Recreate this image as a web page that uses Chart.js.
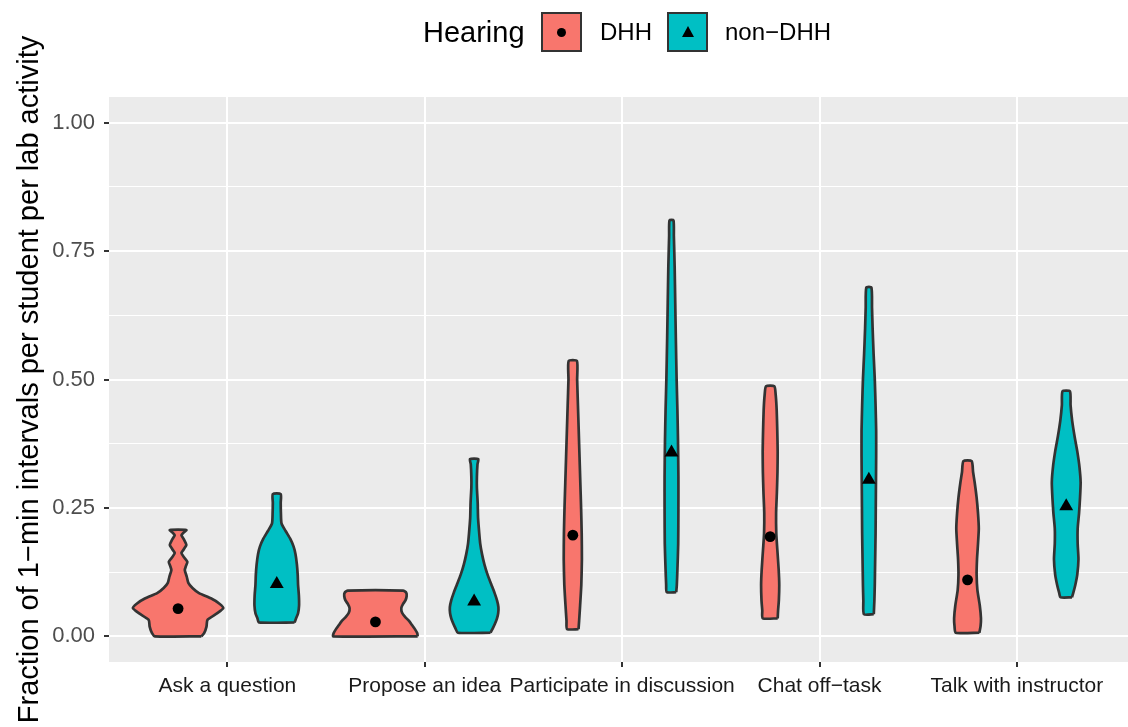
<!DOCTYPE html>
<html>
<head>
<meta charset="utf-8">
<script src="https://cdn.jsdelivr.net/npm/chart.js@4.4.1/dist/chart.umd.min.js"></script>
<style>
  html, body { margin: 0; padding: 0; background: #fff; overflow: hidden; }
  #wrap { position: relative; width: 1128px; height: 727px; font-family: "Liberation Sans", Arial, Helvetica, sans-serif; }
  #chart { position: absolute; left: 0; top: 0; }
  #legend > * { position: absolute; }
  .ltext { top: 32px; transform: translateY(-50%); line-height: 1; color: #000; white-space: nowrap; }
  .key { top: 12px; width: 41px; height: 40px; box-sizing: border-box; border: 2.5px solid #333; }
  .key .dot { position: absolute; left: 50%; top: 50%; width: 9px; height: 9px; margin: -4.5px 0 0 -4.5px; border-radius: 50%; background: #000; }
  .key .tri { position: absolute; left: 50%; top: 50%; width: 0; height: 0; margin: -6px 0 0 -6px;
    border-left: 6px solid transparent; border-right: 6px solid transparent; border-bottom: 11px solid #000; }
</style>
</head>
<body>
<div id="wrap">
  <canvas id="chart" width="1128" height="727"></canvas>
  <div id="legend"></div>
</div>
<script>
// categories and groups
const categories = ['Ask a question', 'Propose an idea', 'Participate in discussion', 'Chat off\u2212task', 'Talk with instructor'];
const groups = ['DHH', 'non\u2212DHH'];
const groupColors = ['#F8766D', '#00BFC4'];
const legendTitle = 'Hearing';
const yTitle = 'Fraction of 1\u2212min intervals per student per lab activity';

// group means (drawn as dot / triangle)
const meansDHH = [0.054, 0.028, 0.197, 0.194, 0.110];
const meansNonDHH = [0.102, 0.068, 0.358, 0.305, 0.253];

// violin outlines: [value, half-width in category units], bottom to top
const askDHH = [[0, 0.118], [0.006, 0.132], [0.019, 0.144], [0.032, 0.149], [0.045, 0.199], [0.055, 0.229], [0.064, 0.208],
  [0.074, 0.166], [0.084, 0.106], [0.094, 0.073], [0.104, 0.052], [0.116, 0.044], [0.129, 0.034], [0.137, 0.040],
  [0.145, 0.047], [0.154, 0.030], [0.162, 0.017], [0.170, 0.030], [0.178, 0.042], [0.187, 0.032], [0.197, 0.017],
  [0.202, 0.028], [0.207, 0.042]];
const askNonDHH = [[0.027, 0.090], [0.035, 0.098], [0.045, 0.108], [0.06, 0.113], [0.08, 0.112], [0.10, 0.108],
  [0.12, 0.106], [0.14, 0.102], [0.16, 0.095], [0.175, 0.085], [0.19, 0.068], [0.205, 0.045], [0.22, 0.024],
  [0.24, 0.021], [0.26, 0.020], [0.277, 0.020]];
const proposeDHH = [[0, 0.214], [0.006, 0.212], [0.014, 0.200], [0.022, 0.185], [0.030, 0.170], [0.038, 0.150],
  [0.046, 0.135], [0.055, 0.131], [0.063, 0.140], [0.070, 0.152], [0.078, 0.158], [0.085, 0.156], [0.089, 0.14]];
const proposeNonDHH = [[0.007, 0.083], [0.015, 0.094], [0.025, 0.106], [0.035, 0.116], [0.045, 0.122], [0.057, 0.123],
  [0.07, 0.116], [0.085, 0.103], [0.10, 0.088], [0.12, 0.068], [0.14, 0.052], [0.16, 0.040], [0.18, 0.031],
  [0.20, 0.026], [0.23, 0.020], [0.26, 0.018], [0.29, 0.014], [0.31, 0.014], [0.335, 0.017], [0.345, 0.021]];
const participateDHH = [[0.014, 0.029], [0.03, 0.032], [0.06, 0.037], [0.10, 0.043], [0.15, 0.046], [0.20, 0.045],
  [0.25, 0.042], [0.30, 0.038], [0.35, 0.034], [0.40, 0.030], [0.45, 0.026], [0.50, 0.022], [0.536, 0.021]];
const participateNonDHH = [[0.086, 0.024], [0.10, 0.027], [0.13, 0.030], [0.18, 0.034], [0.25, 0.035], [0.31, 0.035],
  [0.38, 0.033], [0.44, 0.030], [0.50, 0.026], [0.58, 0.022], [0.65, 0.019], [0.72, 0.016], [0.78, 0.012], [0.81, 0.010]];
const chatDHH = [[0.035, 0.038], [0.05, 0.040], [0.07, 0.044], [0.10, 0.046], [0.13, 0.043], [0.17, 0.036],
  [0.20, 0.031], [0.24, 0.030], [0.28, 0.034], [0.32, 0.037], [0.36, 0.038], [0.40, 0.036], [0.44, 0.033],
  [0.47, 0.028], [0.487, 0.021]];
const chatNonDHH = [[0.043, 0.025], [0.07, 0.028], [0.10, 0.030], [0.15, 0.032], [0.20, 0.034], [0.25, 0.035],
  [0.30, 0.036], [0.35, 0.037], [0.40, 0.037], [0.45, 0.034], [0.50, 0.030], [0.55, 0.024], [0.60, 0.019],
  [0.64, 0.016], [0.679, 0.013]];
const talkDHH = [[0.007, 0.060], [0.02, 0.066], [0.035, 0.068], [0.06, 0.062], [0.09, 0.050], [0.12, 0.046],
  [0.15, 0.048], [0.18, 0.053], [0.21, 0.057], [0.24, 0.053], [0.27, 0.046], [0.30, 0.036], [0.32, 0.028], [0.341, 0.021]];
const talkNonDHH = [[0.076, 0.029], [0.085, 0.036], [0.10, 0.046], [0.12, 0.056], [0.15, 0.062], [0.18, 0.058],
  [0.21, 0.058], [0.24, 0.065], [0.27, 0.070], [0.30, 0.073], [0.33, 0.067], [0.36, 0.056], [0.39, 0.042],
  [0.42, 0.030], [0.45, 0.022], [0.477, 0.019]];

const violinsDHH = [askDHH, proposeDHH, participateDHH, chatDHH, talkDHH];
const violinsNonDHH = [askNonDHH, proposeNonDHH, participateNonDHH, chatNonDHH, talkNonDHH];

// y axis: major ticks get labels, minor ones only a thin grid line
const yMajorTicks = [0, 0.25, 0.5, 0.75, 1];
const yMinorTicks = [0.125, 0.375, 0.625, 0.875];

const dodge = 0.25;
const FONT = '"Liberation Sans", Arial, Helvetica, sans-serif';
Chart.defaults.font.family = FONT;

// closed polygon: up the right side, down the left side
function outline(profile, center) {
  const right = profile.map(([v, w]) => ({ x: center + w, y: v }));
  const left = profile.slice().reverse().map(([v, w]) => ({ x: center - w, y: v }));
  return right.concat(left, [right[0]]);
}

function violinDataset(profile, center, color) {
  return {
    type: 'line',
    data: outline(profile, center),
    showLine: true,
    fill: 'shape',
    backgroundColor: color,
    borderColor: '#333333',
    borderWidth: 2.7,
    borderJoinStyle: 'round',
    tension: 0.2,
    pointRadius: 0,
    order: 2
  };
}

const datasets = [];
categories.forEach((c, i) => {
  datasets.push(violinDataset(violinsDHH[i], i + 1 - dodge, groupColors[0]));
  datasets.push(violinDataset(violinsNonDHH[i], i + 1 + dodge, groupColors[1]));
});
datasets.push({
  type: 'scatter',
  data: meansDHH.map((v, i) => ({ x: i + 1 - dodge, y: v })),
  pointStyle: 'circle',
  pointRadius: 5.4,
  backgroundColor: '#000',
  borderWidth: 0,
  order: 0
});
datasets.push({
  type: 'scatter',
  data: meansNonDHH.map((v, i) => ({ x: i + 1 + dodge, y: v })),
  pointStyle: 'triangle',
  pointRadius: 8,
  backgroundColor: '#000',
  borderWidth: 0,
  order: 0
});

const panelBackground = {
  id: 'panelBackground',
  beforeDraw(chart) {
    const { ctx, chartArea: a } = chart;
    ctx.save();
    ctx.fillStyle = '#EBEBEB';
    ctx.fillRect(a.left, a.top, a.right - a.left, a.bottom - a.top);
    ctx.restore();
  }
};

const isMajor = v => yMajorTicks.some(t => Math.abs(t - v) < 1e-9);

new Chart(document.getElementById('chart'), {
  type: 'scatter',
  data: { datasets },
  options: {
    responsive: false,
    animation: false,
    events: [],
    layout: { autoPadding: false, padding: { top: 97, right: 0, bottom: 0, left: 0 } },
    plugins: { legend: { display: false }, tooltip: { enabled: false } },
    scales: {
      x: {
        type: 'linear',
        min: 0.4,
        max: 5.563,
        afterBuildTicks: s => { s.ticks = categories.map((c, i) => ({ value: i + 1 })); },
        afterFit: s => { s.height = 65; s.paddingLeft = 0; s.paddingRight = 0; },
        border: { display: false },
        grid: { color: '#FFFFFF', lineWidth: 2, tickColor: '#333333', tickWidth: 2, tickLength: 5 },
        ticks: {
          autoSkip: false, maxRotation: 0, minRotation: 0,
          color: '#1A1A1A', font: { size: 21 }, padding: 7,
          callback: v => categories[Math.round(v) - 1]
        }
      },
      y: {
        type: 'linear',
        min: -0.05,
        max: 1.05,
        afterBuildTicks: s => {
          s.ticks = yMajorTicks.concat(yMinorTicks).sort((a, b) => a - b).map(v => ({ value: v }));
        },
        afterFit: s => { s.width = 109; s.paddingTop = 0; s.paddingBottom = 0; },
        border: { display: false },
        grid: {
          color: '#FFFFFF',
          lineWidth: c => (isMajor(c.tick.value) ? 2 : 1),
          tickColor: c => (isMajor(c.tick.value) ? '#333333' : 'rgba(0,0,0,0)'),
          tickWidth: 2,
          tickLength: 5
        },
        ticks: {
          color: '#4D4D4D', font: { size: 22 }, padding: 9,
          callback: v => (isMajor(v) ? v.toFixed(2) : '')
        },
        title: { display: true, text: yTitle, color: '#000', font: { size: 29 }, padding: { top: 13, bottom: 0 } }
      }
    }
  },
  plugins: [panelBackground]
});

// legend, ggplot style: title then keys in a row
const legend = document.getElementById('legend');
const legendItems = [
  { html: legendTitle, cls: 'ltext', left: 423, size: 29 },
  { key: groupColors[0], mark: 'dot', left: 541 },
  { html: groups[0], cls: 'ltext', left: 600, size: 24 },
  { key: groupColors[1], mark: 'tri', left: 667 },
  { html: groups[1], cls: 'ltext', left: 725, size: 24 }
];
legendItems.forEach(item => {
  const el = document.createElement('div');
  el.style.left = item.left + 'px';
  if (item.key) {
    el.className = 'key';
    el.style.background = item.key;
    const m = document.createElement('i');
    m.className = item.mark;
    el.appendChild(m);
  } else {
    el.className = item.cls;
    el.style.fontSize = item.size + 'px';
    el.textContent = item.html;
  }
  legend.appendChild(el);
});
</script>
</body>
</html>
